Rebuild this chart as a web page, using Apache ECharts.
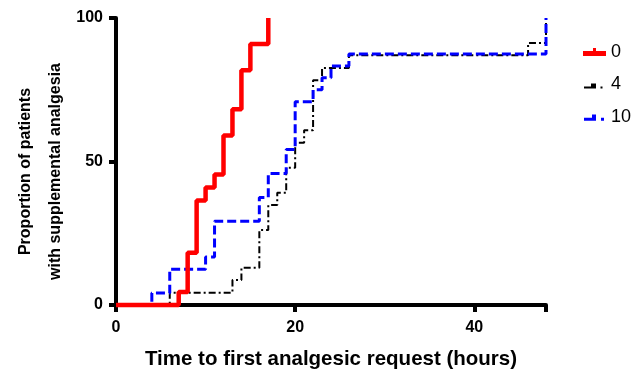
<!DOCTYPE html>
<html>
<head>
<meta charset="utf-8">
<script src="https://cdn.jsdelivr.net/npm/echarts@6/dist/echarts.min.js"></script>
<style>
  html, body { margin: 0; padding: 0; background: #fff; }
  #chart { width: 642px; height: 376px; }
</style>
</head>
<body>
<div id="chart"></div>
<script>
// group labels (dose)
const groups = ['0', '4', '10'];

// time (hours) where each step happens, and the proportion after it (%)
const timeG0 = [0, 7, 8, 9, 10, 11, 12, 13, 14, 15, 17];
const propG0 = [0, 4.5, 18.2, 36.4, 40.9, 45.5, 59.1, 68.2, 81.8, 90.9, 100];

const timeG4 = [0, 6, 13, 14, 16, 17, 18, 19, 20, 21, 22, 23, 26, 46, 48];
const propG4 = [0, 4.3, 8.7, 13.0, 26.1, 34.8, 39.1, 47.8, 56.5, 60.9, 78.3, 82.6, 87.0, 91.3, 100];

const timeG10 = [0, 4, 6, 10, 11, 16, 17, 19, 20, 22, 23, 24, 26, 48];
const propG10 = [0, 4.2, 12.5, 16.7, 29.2, 37.5, 45.8, 54.2, 70.8, 75.0, 79.2, 83.3, 87.5, 100];

const xTicks = [0, 20, 40];
const yTicks = [0, 50, 100];

const pairs = (xs, ys) => xs.map((x, i) => [x, ys[i]]);

// legend glyphs, drawn in a 23x8 box (zero-length corners keep the box size)
const box = 'M0,0 L0,0 M23,8 L23,8 ';
const icons = [
  'path://' + box + 'M0,3 L23,3 L23,8 L0,8 Z M10,0 L13,0 L13,3 L10,3 Z',
  'path://' + box + 'M1,6 L8,6 L8,8 L1,8 Z M8,3 L13,3 L13,8 L8,8 Z M17.5,6 L19.5,6 L19.5,8 L17.5,8 Z',
  'path://' + box + 'M1,4.7 L9,4.7 L9,7.7 L1,7.7 Z M9,1.5 L13,1.5 L13,7.7 L9,7.7 Z M18,4.7 L21,4.7 L21,7.7 L18,7.7 Z',
];

const chart = echarts.init(document.getElementById('chart'));

const font = 'Arial, "Liberation Sans", sans-serif';
const axisFont = { fontFamily: font, fontWeight: 'bold', fontSize: 16, color: '#000' };

chart.setOption({
  animation: false,
  grid: { left: 116, right: 96, top: 18, bottom: 71 },
  legend: {
    orient: 'vertical',
    left: 578,
    top: 38,
    itemGap: 14.5,
    itemWidth: 23,
    itemHeight: 8,
    textStyle: { fontFamily: font, fontSize: 18, lineHeight: 18, color: '#000' },
    data: groups.map((g, i) => ({ name: g, icon: icons[i] })),
  },
  xAxis: {
    type: 'value',
    min: 0,
    max: 48,
    interval: 20,
    name: 'Time to first analgesic request (hours)',
    nameLocation: 'middle',
    nameGap: 44,
    nameMoveOverlap: false,
    nameTextStyle: { ...axisFont, fontSize: 20.5 },
    axisLine: { lineStyle: { color: '#000', width: 4 } },
    axisTick: { length: 7, lineStyle: { color: '#000', width: 4 } },
    axisLabel: {
      ...axisFont,
      margin: 15,
      formatter: v => (xTicks.includes(v) ? String(v) : ''),
    },
    splitLine: { show: false },
  },
  yAxis: {
    type: 'value',
    min: 0,
    max: 100,
    interval: 50,
    name: 'Proportion of patients\nwith supplemental analgesia',
    nameLocation: 'middle',
    nameGap: 45,
    nameMoveOverlap: false,
    nameTextStyle: { ...axisFont, fontSize: 16, lineHeight: 30, padding: [0, 20, 0, 0] },
    axisLine: { lineStyle: { color: '#000', width: 4 } },
    axisTick: { length: 7, lineStyle: { color: '#000', width: 4 } },
    axisLabel: {
      ...axisFont,
      margin: 13,
      formatter: v => (yTicks.includes(v) ? String(v) : ''),
    },
    splitLine: { show: false },
  },
  series: [
    {
      name: groups[0],
      type: 'line',
      step: 'end',
      symbol: 'none',
      clip: false,
      z: 5,
      color: '#ff0000',
      lineStyle: { color: '#ff0000', width: 4.5 },
      data: pairs(timeG0, propG0),
    },
    {
      name: groups[1],
      type: 'line',
      step: 'end',
      symbol: 'none',
      clip: false,
      z: 3,
      color: '#000',
      lineStyle: { color: '#000', width: 2, type: [7, 3, 2, 3] },
      data: pairs(timeG4, propG4),
    },
    {
      name: groups[2],
      type: 'line',
      step: 'end',
      symbol: 'none',
      clip: false,
      z: 4,
      color: '#0000ff',
      lineStyle: { color: '#0000ff', width: 3, type: [9, 4] },
      data: pairs(timeG10, propG10),
    },
  ],
});
</script>
</body>
</html>
